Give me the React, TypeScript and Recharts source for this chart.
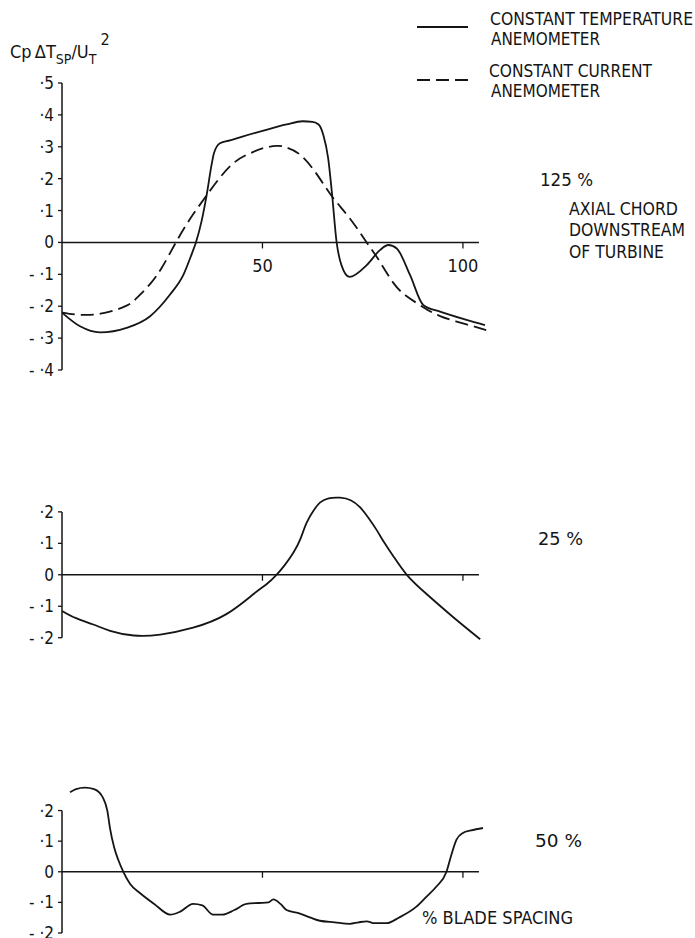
import React from "react";
import { ComposedChart, Line, XAxis, YAxis, ReferenceLine, ReferenceDot } from "recharts";

// ---------- data ----------
// top panel: 125 % axial chord downstream of turbine
const TOP_SOLID_X = [0, 4.5, 9.5, 16.1, 21.9, 26.9, 30.3, 32.3, 33.4, 34.8, 36.1, 37.3, 37.9, 39.4, 41.9, 45, 50, 56, 60, 62.5, 64, 65.2, 66.4, 67.3, 68.5, 69.7, 71.7, 76, 79.3, 81.4, 83.5, 86.8, 90.1, 94.3, 100.9, 105.5];
const TOP_SOLID_Y = [-0.22, -0.263, -0.282, -0.268, -0.232, -0.164, -0.101, -0.038, 0, 0.066, 0.15, 0.243, 0.28, 0.311, 0.32, 0.332, 0.35, 0.37, 0.38, 0.378, 0.37, 0.336, 0.263, 0.159, 0, -0.071, -0.108, -0.071, -0.024, -0.008, -0.019, -0.102, -0.196, -0.217, -0.243, -0.259];
const TOP_DASH_X = [0, 4.5, 10.3, 16.1, 19, 22, 25, 28.4, 32, 36.1, 42, 47, 50, 53.5, 56, 59.4, 63.5, 67.3, 71.8, 76, 78.9, 82.6, 85.9, 89.7, 94.3, 100.9, 106.7];
const TOP_DASH_Y = [-0.22, -0.227, -0.222, -0.198, -0.17, -0.13, -0.077, 0, 0.075, 0.148, 0.24, 0.28, 0.295, 0.303, 0.298, 0.275, 0.215, 0.145, 0.075, 0, -0.053, -0.126, -0.168, -0.2, -0.231, -0.257, -0.278];

// middle panel: 25 %
const MID_X = [0, 3.5, 7.8, 12, 17.9, 24.5, 32.7, 41, 47.7, 51, 53.5, 55.5, 57.7, 59.5, 61, 62.8, 64.4, 66.5, 69.4, 72, 74.3, 76.5, 78.5, 80.5, 82.6, 86, 91, 97.6, 104.3];
const MID_Y = [-0.115, -0.138, -0.158, -0.178, -0.193, -0.19, -0.168, -0.125, -0.062, -0.03, 0, 0.03, 0.07, 0.115, 0.165, 0.205, 0.23, 0.243, 0.245, 0.237, 0.215, 0.18, 0.142, 0.1, 0.06, 0, -0.062, -0.135, -0.205];

// bottom panel: 50 %
const BOT_X = [2, 3.5, 5.7, 8, 10.3, 11.3, 12, 13, 14, 15.3, 17, 19.5, 23, 27, 29.5, 32.7, 35, 37.7, 40, 43, 46, 49, 51.5, 52.7, 54.5, 56, 59, 62, 64.3, 68, 71.8, 74, 76, 78, 81, 84, 88.4, 91, 93.4, 95.9, 97, 98.4, 100, 102, 105];
const BOT_Y = [0.26, 0.27, 0.275, 0.27, 0.24, 0.2, 0.14, 0.08, 0.04, 0, -0.04, -0.07, -0.105, -0.14, -0.13, -0.105, -0.11, -0.14, -0.14, -0.125, -0.105, -0.102, -0.1, -0.09, -0.105, -0.125, -0.135, -0.15, -0.16, -0.165, -0.17, -0.165, -0.162, -0.168, -0.168, -0.15, -0.114, -0.08, -0.048, 0, 0.05, 0.105, 0.127, 0.135, 0.143];

const TOP_Y_TICKS = [-0.4, -0.3, -0.2, -0.1, 0, 0.1, 0.2, 0.3, 0.4, 0.5];
const SMALL_Y_TICKS = [-0.2, -0.1, 0, 0.1, 0.2];
const X_TICKS = [50, 100];
const X_TICK_LABELS = ["50", "100"];

const LEGEND_LABELS = [
  ["CONSTANT TEMPERATURE", "ANEMOMETER"],
  ["CONSTANT CURRENT", "ANEMOMETER"],
];
const PANEL_LABELS = ["125 %", "25 %", "50 %"];
const NOTE_LINES = ["AXIAL CHORD", "DOWNSTREAM", "OF TURBINE"];
const X_TITLE = "% BLADE SPACING";

// ---------- styling ----------
const FONT = "'DejaVu Sans Condensed', 'DejaVu Sans', sans-serif";
const INK = "#151515";
const X_DOMAIN: [number, number] = [0, 108];
const AXIS_END = 104;

const toPts = (xs: number[], ys: number[]) => xs.map((x, i) => ({ x, y: ys[i] }));

const fmtY = (v: number) => {
  const n = Math.round(v * 10);
  if (n === 0) return "0";
  return n < 0 ? `- \u00b7${-n}` : `\u00b7${n}`;
};

const tickShape = (label?: string) => (p: any) => (
  <g>
    <line x1={p.cx} y1={p.cy} x2={p.cx} y2={p.cy + 6} stroke={INK} strokeWidth={1.3} />
    {label ? (
      <text x={p.cx} y={p.cy + 30} textAnchor="middle" fontFamily={FONT} fontSize={18} fill={INK}>
        {label}
      </text>
    ) : null}
  </g>
);

type Series = { data: { x: number; y: number }[]; dash?: string; curve: "monotone" | "natural" };

type PanelProps = {
  top: number;
  height: number;
  margin: { top: number; bottom: number };
  domain: [number, number];
  ticks: number[];
  series: Series[];
  tickLabels: boolean;
};

function Panel({ top, height, margin, domain, ticks, series, tickLabels }: PanelProps) {
  return (
    <div style={{ position: "absolute", left: 0, top, width: 695, height }}>
      <ComposedChart width={695} height={height} margin={{ top: margin.top, bottom: margin.bottom, left: 22, right: 200 }}>
        <XAxis type="number" dataKey="x" domain={X_DOMAIN} hide allowDataOverflow />
        <YAxis
          type="number"
          domain={domain}
          ticks={ticks}
          interval={0}
          width={40}
          axisLine={false}
          tickLine={{ stroke: INK, strokeWidth: 1.3 }}
          tickSize={4}
          tickMargin={4}
          tickFormatter={fmtY}
          tick={{ fill: INK, fontSize: 17, fontFamily: FONT }}
          allowDataOverflow
        />
        <ReferenceLine
          segment={[{ x: 0, y: ticks[0] }, { x: 0, y: ticks[ticks.length - 1] }]}
          stroke={INK}
          strokeWidth={1.5}
          ifOverflow="visible"
        />
        <ReferenceLine segment={[{ x: 0, y: 0 }, { x: AXIS_END, y: 0 }]} stroke={INK} strokeWidth={1.4} ifOverflow="visible" />
        {X_TICKS.map((t, i) => (
          <ReferenceDot
            key={t}
            x={t}
            y={0}
            r={1}
            ifOverflow="visible"
            shape={tickShape(tickLabels ? X_TICK_LABELS[i] : undefined)}
          />
        ))}
        {series.map((s, i) => (
          <Line
            key={i}
            data={s.data}
            dataKey="y"
            type={s.curve}
            stroke={INK}
            strokeWidth={1.8}
            strokeDasharray={s.dash}
            dot={false}
            activeDot={false}
            isAnimationActive={false}
          />
        ))}
      </ComposedChart>
    </div>
  );
}

export default function App() {
  const txt = { fontFamily: FONT, fill: INK } as const;
  return (
    <div style={{ position: "absolute", left: 0, top: 0, width: 695, height: 938, background: "#fff", overflow: "hidden" }}>
      <Panel
        top={0}
        height={400}
        margin={{ top: 83, bottom: 30 }}
        domain={[-0.4, 0.5]}
        ticks={TOP_Y_TICKS}
        tickLabels
        series={[
          { data: toPts(TOP_SOLID_X, TOP_SOLID_Y), curve: "monotone" },
          { data: toPts(TOP_DASH_X, TOP_DASH_Y), dash: "13 6", curve: "natural" },
        ]}
      />
      <Panel
        top={480}
        height={200}
        margin={{ top: 13, bottom: 36 }}
        domain={[-0.22, 0.26]}
        ticks={SMALL_Y_TICKS}
        tickLabels={false}
        series={[{ data: toPts(MID_X, MID_Y), curve: "natural" }]}
      />
      <Panel
        top={760}
        height={178}
        margin={{ top: 23, bottom: 5 }}
        domain={[-0.2, 0.29]}
        ticks={SMALL_Y_TICKS}
        tickLabels={false}
        series={[{ data: toPts(BOT_X, BOT_Y), curve: "monotone" }]}
      />
      <svg width={695} height={938} style={{ position: "absolute", left: 0, top: 0, pointerEvents: "none" }}>
        {/* y-axis title */}
        <text x={10} y={58} fontSize={18} {...txt}>
          Cp{"\u2009"}ΔT
          <tspan dy={6} fontSize={14}>SP</tspan>
          <tspan dy={-6}>/U</tspan>
          <tspan dy={6} fontSize={14}>T</tspan>
          <tspan dx={4} dy={-19} fontSize={16}>2</tspan>
        </text>
        {/* legend */}
        <line x1={417} y1={27} x2={468} y2={27} stroke={INK} strokeWidth={1.8} />
        <line x1={417} y1={80} x2={468} y2={80} stroke={INK} strokeWidth={1.8} strokeDasharray="13 6" />
        <text x={490} y={25} fontSize={17} textLength={203} lengthAdjust="spacingAndGlyphs" {...txt}>{LEGEND_LABELS[0][0]}</text>
        <text x={491} y={45} fontSize={17} textLength={109} lengthAdjust="spacingAndGlyphs" {...txt}>{LEGEND_LABELS[0][1]}</text>
        <text x={489} y={77} fontSize={17} textLength={163} lengthAdjust="spacingAndGlyphs" {...txt}>{LEGEND_LABELS[1][0]}</text>
        <text x={491} y={97} fontSize={17} textLength={109} lengthAdjust="spacingAndGlyphs" {...txt}>{LEGEND_LABELS[1][1]}</text>
        {/* panel labels */}
        <text x={540} y={186} fontSize={17} textLength={53} lengthAdjust="spacingAndGlyphs" {...txt}>{PANEL_LABELS[0]}</text>
        <text x={569} y={215} fontSize={17} textLength={109} lengthAdjust="spacingAndGlyphs" {...txt}>{NOTE_LINES[0]}</text>
        <text x={569} y={236} fontSize={17} textLength={116} lengthAdjust="spacingAndGlyphs" {...txt}>{NOTE_LINES[1]}</text>
        <text x={569} y={258} fontSize={17} textLength={95} lengthAdjust="spacingAndGlyphs" {...txt}>{NOTE_LINES[2]}</text>
        <text x={538} y={545} fontSize={17} textLength={45} lengthAdjust="spacingAndGlyphs" {...txt}>{PANEL_LABELS[1]}</text>
        <text x={535} y={847} fontSize={17} textLength={47} lengthAdjust="spacingAndGlyphs" {...txt}>{PANEL_LABELS[2]}</text>
        <text x={422} y={924} fontSize={18} textLength={151} lengthAdjust="spacingAndGlyphs" {...txt}>{X_TITLE}</text>
      </svg>
    </div>
  );
}
